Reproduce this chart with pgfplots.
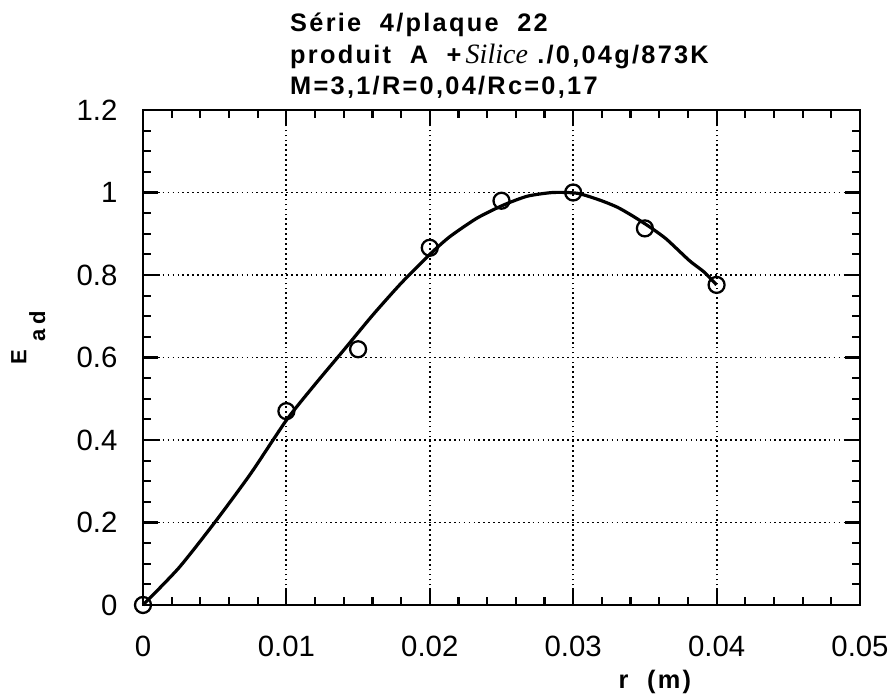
\documentclass[border=0pt]{standalone}
\usepackage{fontspec}
\setmainfont{Liberation Sans}
\newfontfamily\tfont[LetterSpace=9]{Liberation Sans}
\newfontfamily\hand{Liberation Serif}
\usepackage{pgfplots}
\pgfplotsset{compat=1.18}
\begin{document}
\begin{tikzpicture}
\begin{axis}[
  scale only axis, width=537.75pt, height=371.25pt,
  xmin=0, xmax=0.05, ymin=0, ymax=1.2,
  clip=false,
  scaled x ticks=false, scaled y ticks=false,
  axis line style={line width=1.8pt},
  tick align=inside,
  xtick={0,0.01,0.02,0.03,0.04,0.05},
  xticklabels={0,0.01,0.02,0.03,0.04,0.05},
  ytick={0,0.2,0.4,0.6,0.8,1,1.2},
  yticklabels={0,0.2,0.4,0.6,0.8,1,1.2},
  minor x tick num=4, minor y tick num=3,
  major tick length=11pt, minor tick length=6pt,
  every tick/.style={black, line width=1.6pt},
  grid=major,
  major grid style={black, line width=1.4pt, dash pattern=on 1.3pt off 2.4pt},
  ticklabel style={font=\fontsize{22}{26}\selectfont},
  xticklabel style={inner sep=0pt, anchor=north, yshift=-23pt},
  yticklabel style={inner sep=0pt, anchor=east, xshift=-19pt},
  title={S\'erie\ \ 4/plaque\ \ 22\\[2.6pt]
         produit\ \ A\ \ +\,{\hand\itshape\mdseries\fontsize{21}{18}\selectfont Silice}\ ./0,04g/873K\\[2.6pt]
         M=3,1/R=0,04/Rc=0,17},
  title style={at={(rel axis cs:0.205,1.18)}, anchor=north west, align=left,
    inner sep=0pt, font=\fontsize{19}{21}\selectfont\tfont\bfseries},
  xlabel={r\ \ (m)},
  xlabel style={at={(rel axis cs:0.714,-0.156)}, anchor=center,
    font=\fontsize{19}{20}\selectfont\tfont\bfseries},
  ylabel={E\hspace{6pt}\raisebox{-14pt}{a\hspace{4pt}d}},
  ylabel style={at={(rel axis cs:-0.16,0.54)}, anchor=center,
    font=\fontsize{16.5}{17}\selectfont\tfont\bfseries},
]
\addplot[black, line width=2.4pt, smooth, tension=0.4, no marks] coordinates {
(0,0) (0.0025,0.090) (0.005,0.200) (0.0075,0.318) (0.0100,0.448)
(0.012,0.535) (0.014,0.618) (0.016,0.702) (0.018,0.780) (0.0200,0.850)
(0.0214,0.893) (0.0233,0.938) (0.0251,0.969) (0.0268,0.991) (0.0286,1.000)
(0.0303,0.998) (0.0319,0.981) (0.0331,0.964) (0.0342,0.942) (0.0354,0.915)
(0.0365,0.887) (0.0381,0.835) (0.0391,0.808) (0.0400,0.776)
};
\addplot[black, only marks, mark=o, mark size=6pt, mark options={line width=1.7pt}] coordinates {
(0,0) (0.01,0.47) (0.015,0.62) (0.02,0.866) (0.025,0.98) (0.03,1.0) (0.035,0.913) (0.04,0.776)
};
\end{axis}
\pgfresetboundingbox
\path[use as bounding box] ([xshift=-107.25pt, yshift=-71.25pt]current axis.south west) rectangle ++(670.5pt,525pt);
\end{tikzpicture}
\end{document}
